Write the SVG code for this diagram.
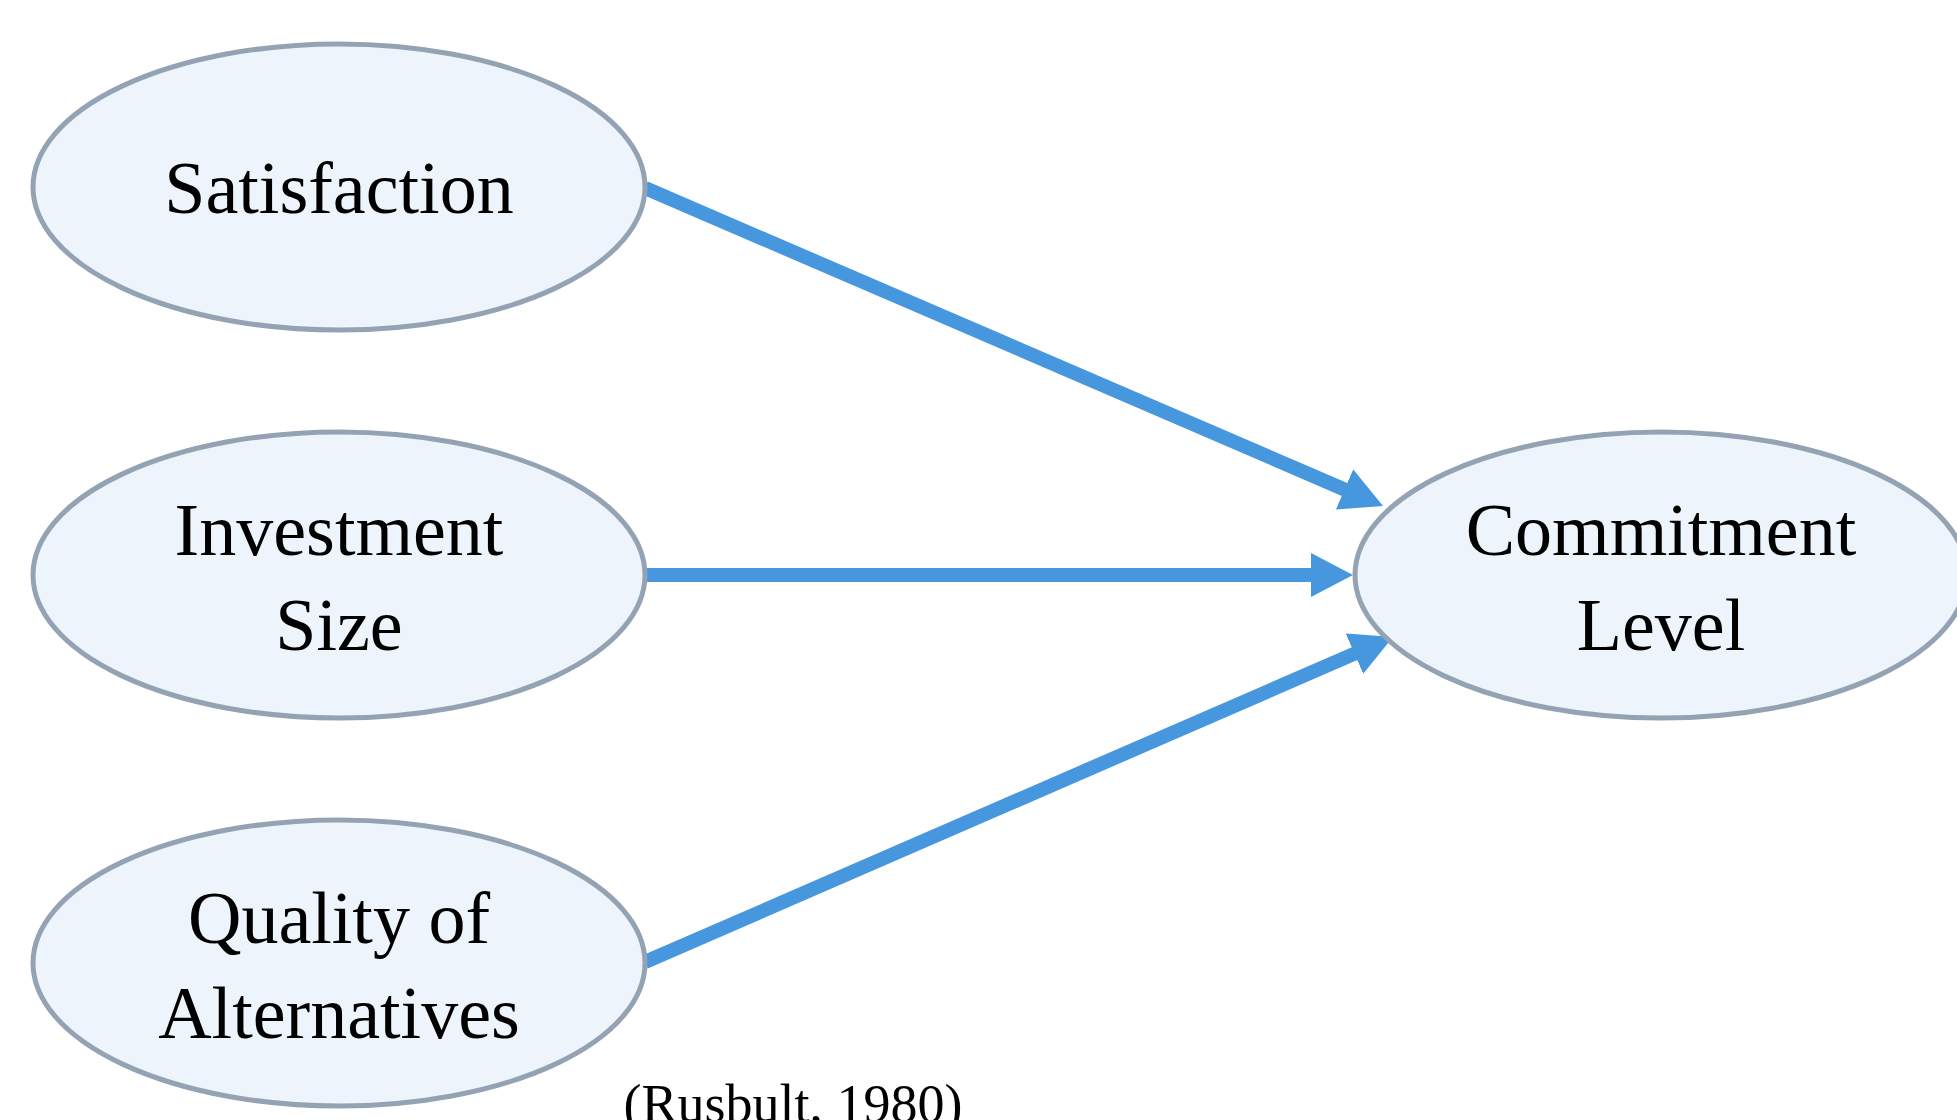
<svg xmlns="http://www.w3.org/2000/svg" width="1957" height="1120" viewBox="0 0 1957 1120">
<style>
.node ellipse{fill:#edf4fc;stroke:#94a3b4;stroke-width:5}
.node text,.cite{font-family:"Liberation Serif","Times New Roman",serif;fill:#000;text-anchor:middle}
.node text{font-size:74px}
.cite{font-size:54px}
.edge{stroke:#4797df;stroke-width:14;fill:none;marker-end:url(#arrow)}
</style>
<defs>
<marker id="arrow" markerUnits="userSpaceOnUse" markerWidth="44" markerHeight="44" refX="2" refY="22" orient="auto" viewBox="0 0 44 44">
<path d="M0,0 L42,22 L0,44 Z" fill="#4797df"/>
</marker>
</defs>
<rect width="1957" height="1120" fill="#fff"/>
<g id="connectors">
<line class="edge" x1="645" y1="188" x2="1346.3" y2="490.2"/>
<line class="edge" x1="645" y1="575" x2="1313" y2="575"/>
<line class="edge" x1="645" y1="962" x2="1356.3" y2="652.9"/>
</g>
<g id="satisfaction" class="node">
<ellipse cx="339" cy="187" rx="306" ry="143"/>
<text x="339" y="213">Satisfaction</text>
</g>
<g id="investment" class="node">
<ellipse cx="339" cy="575" rx="306" ry="143"/>
<text x="339" y="555">Investment</text>
<text x="339" y="650">Size</text>
</g>
<g id="quality" class="node">
<ellipse cx="339" cy="963" rx="306" ry="143"/>
<text x="339" y="943">Quality of</text>
<text x="339" y="1038">Alternatives</text>
</g>
<g id="commitment" class="node">
<ellipse cx="1661" cy="575" rx="306" ry="143"/>
<text x="1661" y="555">Commitment</text>
<text x="1661" y="650">Level</text>
</g>
<text class="cite" x="793" y="1122">(Rusbult, 1980)</text>
</svg>
